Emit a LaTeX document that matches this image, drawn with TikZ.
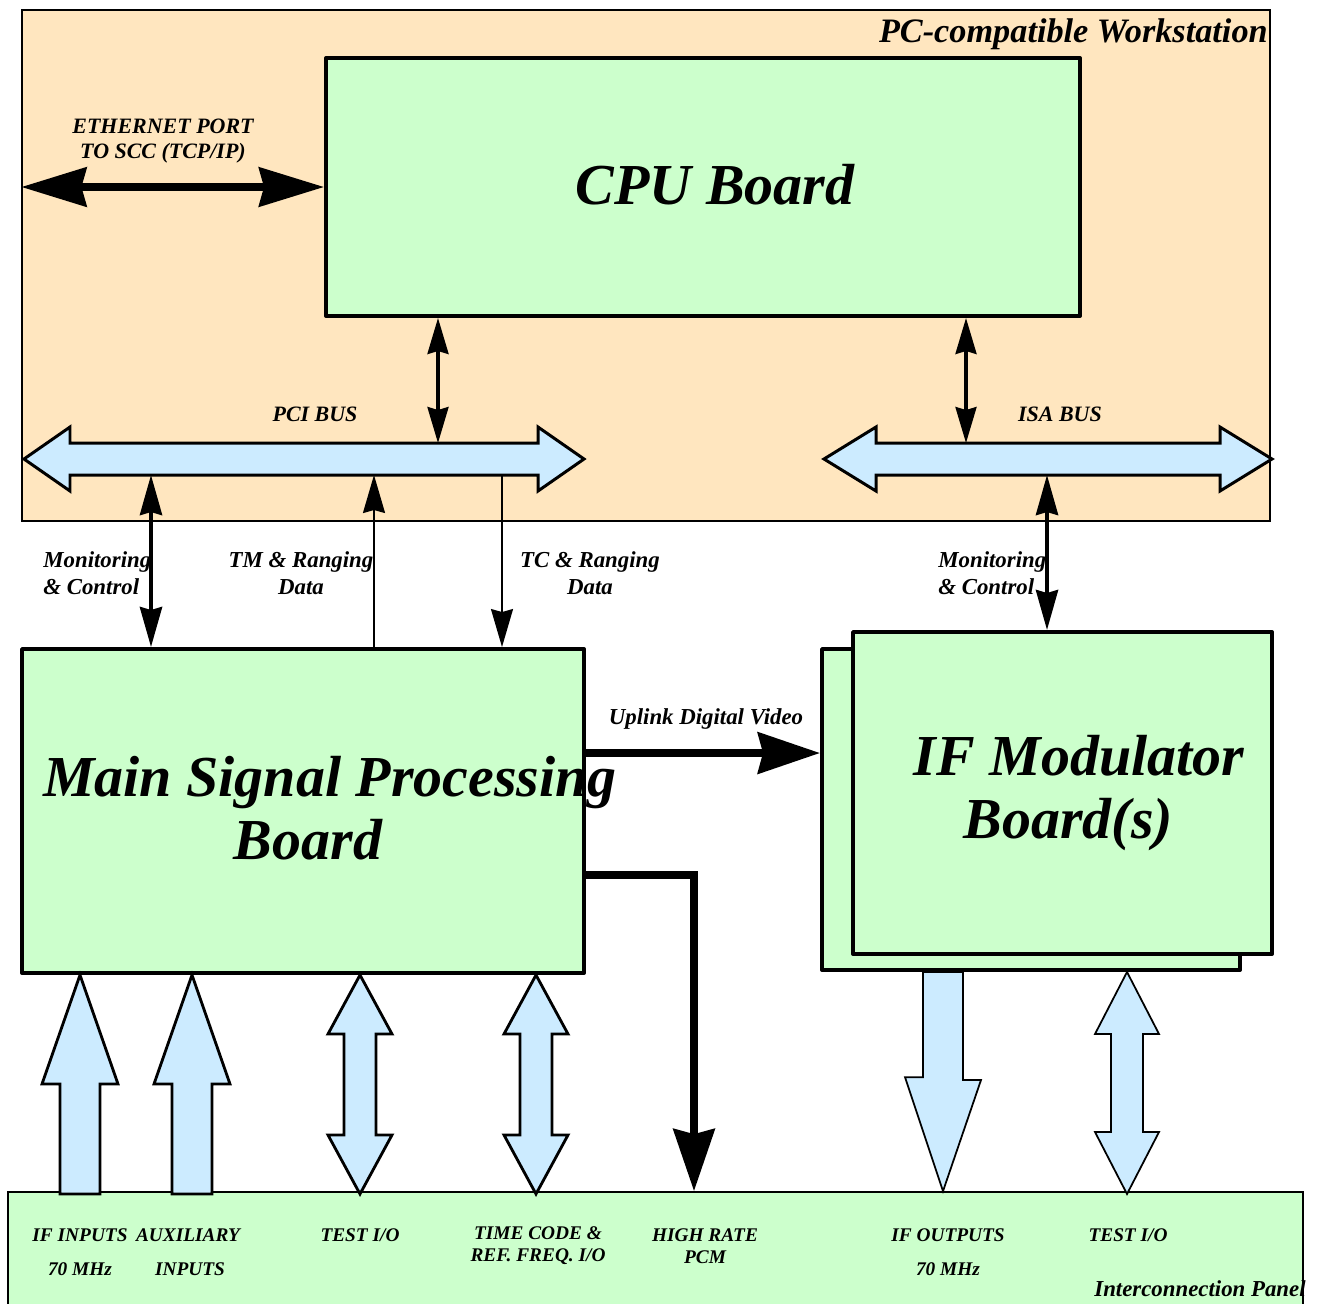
\documentclass[tikz,border=0pt]{standalone}
\usepackage{fontspec}
\setmainfont{Liberation Serif}
\usetikzlibrary{positioning, arrows.meta, calc}
\definecolor{wsorange}{RGB}{255,230,191}
\definecolor{boardgreen}{RGB}{204,255,204}
\definecolor{busblue}{RGB}{204,235,255}
\tikzset{
	boardbox/.style={draw, line width=2.3pt, fill=boardgreen, line join=round, inner sep=0pt}
}
\tikzset{
	biglabel/.style={font=\fontsize{33}{36}\selectfont\bfseries\itshape, align=center, inner sep=0pt}
}
\tikzset{
	smalllabel/.style={font=\fontsize{13}{15}\selectfont\bfseries\itshape, inner sep=0pt}
}
\tikzset{
	panellabel/.style={font=\fontsize{11}{12.5}\selectfont\bfseries\itshape, inner sep=0pt, align=center}
}
\tikzset{
	busarrow/.style={draw, line width=1.7pt, fill=busblue, line join=miter}
}
\tikzset{
	inarrow/.style={draw, line width=1.6pt, fill=busblue, line join=miter},
	outarrow/.style={draw, line width=1pt, fill=busblue, line join=miter}
}
\tikzset{
	etharrow/.style={line width=4pt, {Stealth[length=1.3cm, width=0.78cm, inset=0.1cm]}-{Stealth[length=1.3cm, width=0.78cm, inset=0.1cm]}},
	fatarrow/.style={line width=4.5pt, -{Stealth[length=1.24cm, width=0.82cm, inset=0.1cm]}},
	cpuarrow/.style={line width=1.8pt, {Stealth[length=0.72cm, width=0.42cm, inset=0.06cm]}-{Stealth[length=0.72cm, width=0.42cm, inset=0.06cm]}},
	monarrow/.style={line width=2.4pt, {Stealth[length=0.8cm, width=0.44cm, inset=0.06cm]}-{Stealth[length=0.8cm, width=0.44cm, inset=0.06cm]}},
	dataarrow/.style={line width=1pt, -{Stealth[length=0.76cm, width=0.44cm, inset=0.06cm]}}
}
\begin{document}
\begin{tikzpicture}[x=0.02cm, y=-0.02cm]
      \useasboundingbox (0,0) rectangle (1318,1303);
      % workstation and its buses
      \node[draw, line width=0.8pt, fill=wsorange, minimum width=24.96cm, minimum height=10.22cm, inner sep=0pt] (ws) at (646,265.5) {};
      \node[smalllabel, font=\fontsize{19.5}{22}\selectfont\bfseries\itshape, anchor=base east] (wslbl) at (1268,42) {PC-compatible Workstation};
      \node[boardbox, minimum width=15.08cm, minimum height=5.16cm] (cpu) at (703,187) {};
      \node[biglabel] (cpulbl) at (715,185) {CPU Board};
      \draw[busarrow] (24,459) -- (70,427) -- (70,443) -- (538,443) -- (538,427) -- (584,459) -- (538,491) -- (538,475) -- (70,475) -- (70,491) -- cycle;
      \draw[busarrow] (824,459) -- (876,427) -- (876,443) -- (1220,443) -- (1220,427) -- (1272,459) -- (1220,491) -- (1220,475) -- (876,475) -- (876,491) -- cycle;
      \node[smalllabel, font=\fontsize{12.5}{14}\selectfont\bfseries\itshape] (pcilbl) at (315,414) {PCI BUS};
      \node[smalllabel, font=\fontsize{12.5}{14}\selectfont\bfseries\itshape] (isalbl) at (1060,414) {ISA BUS};
      \coordinate (pcicpu) at (438,443);
      \coordinate (isacpu) at (966,443);
      \coordinate (pcimon) at (151,475);
      \coordinate (pcitm) at (374,475);
      \coordinate (pcitc) at (502,475);
      \coordinate (isamon) at (1047,475);
      \draw[cpuarrow] (cpu.south -| pcicpu) -- (pcicpu);
      \draw[cpuarrow] (cpu.south -| isacpu) -- (isacpu);
      \draw[etharrow] (cpu.west -| ws.west) -- (cpu.west);
      \node[smalllabel, font=\fontsize{12.5}{14}\selectfont\bfseries\itshape, align=center] (ethlbl) at (163,141) {ETHERNET PORT\\TO SCC (TCP/IP)};

      % boards
      \node[boardbox, minimum width=11.24cm, minimum height=6.48cm] (msp) at (303,811) {};
      \node[biglabel] (msplbl) at (330,808) {Main Signal Processing\\Board\hspace*{25pt}};
      \node[boardbox, minimum width=8.36cm, minimum height=6.42cm] (ifmb) at (1031,809.5) {};
      \node[boardbox, minimum width=8.38cm, minimum height=6.44cm] (ifm) at (1062.5,793) {};
      \node[biglabel] (ifmlbl) at (1079,793) {IF Modulator\\Board(s)\hspace*{12pt}};

      % bus connections
      \draw[monarrow] (pcimon) -- (pcimon |- msp.north);
      \draw[dataarrow] (pcitm |- msp.north) -- (pcitm);
      \draw[dataarrow] (pcitc) -- (pcitc |- msp.north);
      \draw[monarrow] (isamon) -- (isamon |- ifm.north);
      \node[smalllabel, align=left, anchor=west] (monlbl) at (43,573) {Monitoring\\\& Control};
      \node[smalllabel, align=center] (tmlbl) at (301,573) {TM \& Ranging\\Data};
      \node[smalllabel, align=center] (tclbl) at (590,573) {TC \& Ranging\\Data};
      \node[smalllabel, align=left, anchor=west] (isamonlbl) at (938,573) {Monitoring\\\& Control};

      % interconnection panel
      \node[draw, line width=1pt, fill=boardgreen, minimum width=25.9cm, minimum height=2.28cm, inner sep=0pt] (panel) at (655.5,1249) {};
      \node[smalllabel, anchor=base east] (panellbl) at (1306,1296) {Interconnection Panel};

      % uplink video and high rate PCM
      \coordinate (uplink) at ([yshift=1.16cm]msp.east);
      \coordinate (pcmout) at ([yshift=-1.28cm]msp.east);
      \coordinate (pcmin) at (panel.north -| 694,0);
      \draw[fatarrow] (uplink) -- (uplink -| ifmb.west);
      \draw[fatarrow] (pcmout) -| (pcmin);
      \node[smalllabel] (uplbl) at (706,719) {Uplink Digital Video};

      % panel I/O
      \foreach \x in {80,192}
        \draw[inarrow] (msp.south -| \x,0) -- ++(38,109) -- ++(-18,0) -- ++(0,110) -- ++(-40,0) -- ++(0,-110) -- ++(-18,0) -- cycle;
      \foreach \x in {360,536}
        \draw[inarrow] (msp.south -| \x,0) -- ++(32,59) -- ++(-16,0) -- ++(0,101) -- ++(16,0) -- ++(-32,59) -- ++(-32,-59) -- ++(16,0) -- ++(0,-101) -- ++(-16,0) -- cycle;
      \draw[outarrow] (ifmb.south -| 923,0) -- ++(40,0) -- ++(0,108) -- ++(18,0) -- (panel.north -| 943,0) -- ++(-38,-114) -- ++(18,0) -- cycle;
      \draw[outarrow] (ifmb.south -| 1127,0) -- ++(32,62) -- ++(-16,0) -- ++(0,98) -- ++(16,0) -- ++(-32,62) -- ++(-32,-62) -- ++(16,0) -- ++(0,-98) -- ++(-16,0) -- cycle;

      \node[panellabel] (ifinlbl) at (80,1235) {IF INPUTS};
      \node[panellabel] (ifinmhz) at (80,1269) {70 MHz};
      \node[panellabel] (auxlbl) at (188,1235) {AUXILIARY};
      \node[panellabel] (auxin) at (190,1269) {INPUTS};
      \node[panellabel] (testlbl) at (360,1235) {TEST I/O};
      \node[panellabel] (timelbl) at (538,1246) {TIME CODE \& \\REF. FREQ. I/O};
      \node[panellabel] (pcmlbl) at (705,1246) {HIGH RATE\\PCM};
      \node[panellabel] (ifoutlbl) at (948,1235) {IF OUTPUTS};
      \node[panellabel] (ifoutmhz) at (948,1269) {70 MHz};
      \node[panellabel] (test2lbl) at (1128,1235) {TEST I/O};
\end{tikzpicture}
\end{document}
